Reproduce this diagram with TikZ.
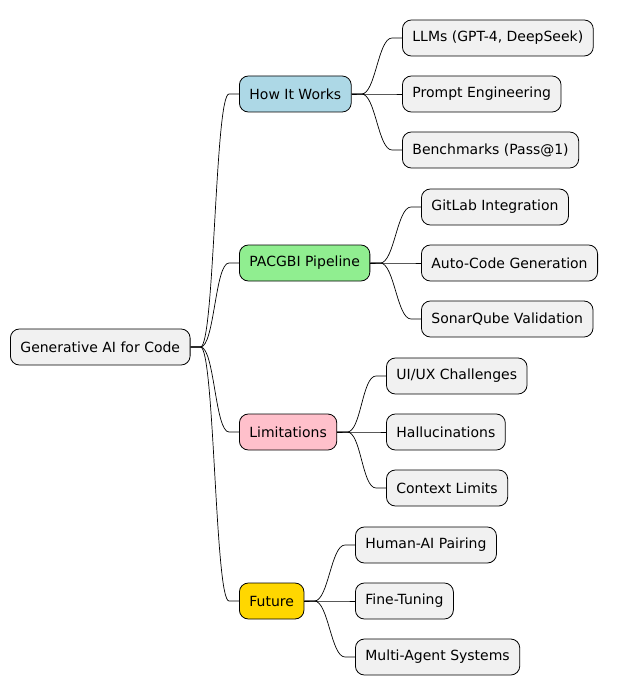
\documentclass[tikz,border=0pt]{standalone}
\usepackage{fontspec}
\setmainfont{DejaVu Sans}
\usetikzlibrary{calc}
\begin{document}
\begin{tikzpicture}[x=1pt,y=-1pt,
  box/.style={draw=black,line width=0.8pt,rounded corners=9pt,anchor=west,minimum height=36pt,inner xsep=10pt,fill=boxgray,font=\fontsize{14}{16}\selectfont},
  link/.style={line width=0.7pt}]
\definecolor{boxgray}{RGB}{241,241,241}
\definecolor{lblue}{RGB}{173,216,230}
\definecolor{lgreen}{RGB}{144,238,144}
\definecolor{lpink}{RGB}{255,192,203}
\definecolor{lgold}{RGB}{255,215,0}
\useasboundingbox (0,0) rectangle (617,695);
\node[box] (r) at (10,347) {Generative AI for Code};
\node[box,fill=lblue] (a) at (239,94) {How It Works};
\node[box,fill=lgreen] (b) at (239,263) {PACGBI Pipeline};
\node[box,fill=lpink] (c) at (239,432) {Limitations};
\node[box,fill=lgold] (d) at (239,601) {Future};
\node[box] (a1) at (402,38) {LLMs (GPT-4, DeepSeek)};
\node[box] (a2) at (402,94) {Prompt Engineering};
\node[box] (a3) at (402,150) {Benchmarks (Pass@1)};
\node[box] (b1) at (421,207) {GitLab Integration};
\node[box] (b2) at (421,263) {Auto-Code Generation};
\node[box] (b3) at (421,319) {SonarQube Validation};
\node[box] (c1) at (386,376) {UI/UX Challenges};
\node[box] (c2) at (386,432) {Hallucinations};
\node[box] (c3) at (386,488) {Context Limits};
\node[box] (d1) at (355,545) {Human-AI Pairing};
\node[box] (d2) at (355,601) {Fine-Tuning};
\node[box] (d3) at (355,657) {Multi-Agent Systems};
\foreach \p/\c in {r/a,r/b,r/c,r/d,a/a1,a/a2,a/a3,b/b1,b/b2,b/b3,c/c1,c/c2,c/c3,d/d1,d/d2,d/d3}{
  \draw[link] (\p.east) -- ++(10,0) .. controls +(14,0) and ($(\c.west)+(-24,0)$) .. ($(\c.west)+(-10,0)$) -- (\c.west);
}
\end{tikzpicture}
\end{document}
